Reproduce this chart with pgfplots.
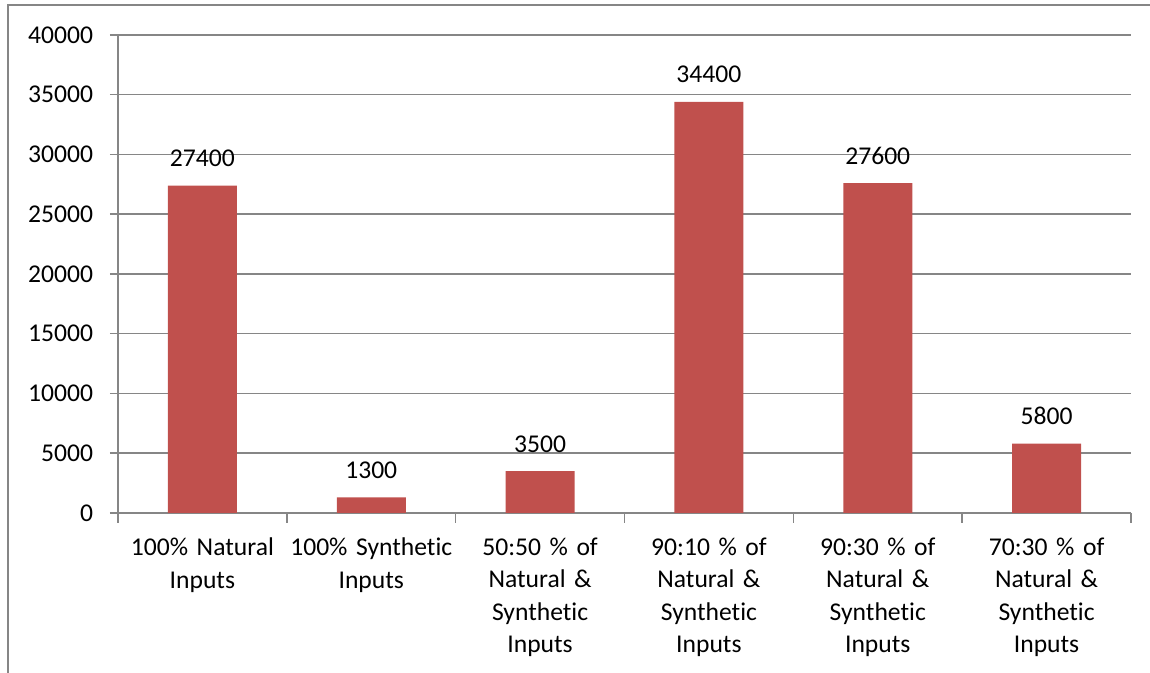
\documentclass[border=0pt]{standalone}
\usepackage{fontspec}
\setmainfont{Carlito}[Ligatures=NoCommon]
\usepackage{pgfplots}
\pgfplotsset{compat=1.18}
\definecolor{barred}{HTML}{C0504D}
\definecolor{gridgray}{HTML}{868686}
\begin{document}
\fontsize{12.8}{16.25}\selectfont
\begin{tikzpicture}
  \useasboundingbox (-59pt,-80pt) rectangle (516pt,256.5pt);
  % chart frame (only top and left edges are visible in the crop)
  \draw[gridgray, line width=1pt] (-55pt,-80pt) -- (-55pt,254pt) -- (516pt,254pt);
  \begin{axis}[
      at={(0pt,0pt)}, anchor=south west,
      scale only axis,
      width=506.5pt, height=239pt,
      ybar, bar width=34.5pt,
      xmin=-0.5, xmax=5.5,
      ymin=0, ymax=40000,
      ytick={0,5000,...,40000},
      scaled y ticks=false,
      /pgf/number format/1000 sep={},
      /pgf/number format/assume math mode=true,
      xtick={0,...,5},
      xticklabels={
        {100\% Natural\\Inputs},
        {100\% Synthetic\\Inputs},
        {50:50 \% of\\Natural \&\\Synthetic\\Inputs},
        {90:10 \% of\\Natural \&\\Synthetic\\Inputs},
        {90:30 \% of\\Natural \&\\Synthetic\\Inputs},
        {70:30 \% of\\Natural \&\\Synthetic\\Inputs}},
      xticklabel style={align=center, text width=90pt, yshift=-4pt,
        font=\fontsize{12.8}{16.25}\selectfont},
      yticklabel style={xshift=-4pt, font=\fontsize{12.8}{16.25}\selectfont},
      minor xtick={-0.5,0.5,...,5.5},
      major x tick style={draw=none},
      minor x tick style={gridgray, line width=0.75pt},
      xtick align=outside,
      ytick align=outside,
      minor tick length=5pt,
      major tick length=4pt,
      y tick style={gridgray, line width=0.75pt},
      axis lines*=left,
      axis line style={gridgray, line width=0.75pt, -},
      ymajorgrids,
      grid style={gridgray, line width=0.75pt},
      nodes near coords,
      every node near coord/.append style={font=\fontsize{12.8}{16.25}\selectfont, black, yshift=5pt},
    ]
    \addplot[fill=barred, draw=none] coordinates {
      (0, 27400)
      (1, 1300)
      (2, 3500)
      (3, 34400)
      (4, 27600)
      (5, 5800)
    };
  \end{axis}
\end{tikzpicture}
\end{document}
